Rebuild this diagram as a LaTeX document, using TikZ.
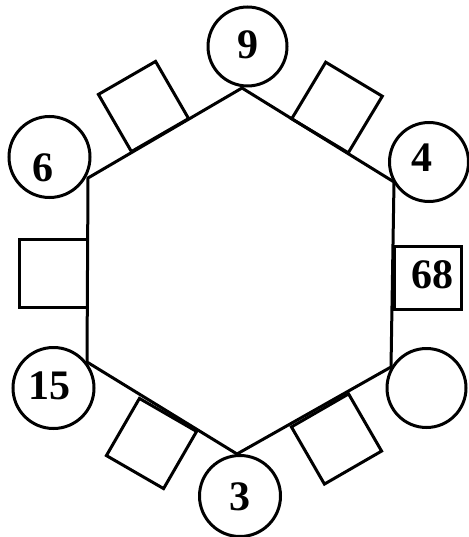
\documentclass[tikz,border=0pt]{standalone}
\usepackage{fontspec}
\setmainfont{Liberation Serif}
\begin{document}
\begin{tikzpicture}[x=1pt,y=-1pt,
  ln/.style={line width=3pt},
  ring/.style={draw,ln,circle,minimum size=79pt,inner sep=0pt},
  box/.style={draw,ln,rectangle,minimum size=66pt,inner sep=0pt},
  num/.style={inner sep=0pt,font=\fontsize{42}{42}\selectfont\bfseries}]
\useasboundingbox (0,0) rectangle (468,537);
% hexagon vertices
\coordinate (A) at (242,88);
\coordinate (B) at (394,182);
\coordinate (C) at (391,367);
\coordinate (D) at (237,454);
\coordinate (E) at (87,362);
\coordinate (F) at (88,178);
\draw[ln,line join=miter] (A) -- (B) -- (C) -- (D) -- (E) -- (F) -- cycle;
% squares on edges
\node[box,rotate=30] (sUL) at (143.5,106.5) {};
\node[box,rotate=-31] (sUR) at (337,107.5) {};
\node[box,rotate=-30] (sLL) at (151.5,443.5) {};
\node[box,rotate=30] (sLR) at (336.5,439) {};
\node[box,minimum width=68pt,minimum height=68pt] (sL) at (53,273) {};
\node[box,minimum width=67pt,minimum height=63pt] (sR) at (427.5,277.5) {};
% circles at vertices
\node[ring] (cT) at (247.5,46.5) {};
\node[ring] (cUR) at (429,162) {};
\node[ring] (cLR) at (426.5,388) {};
\node[ring,minimum size=81pt] (cB) at (240,496) {};
\node[ring,minimum size=81pt] (cLL) at (53.5,388) {};
\node[ring,minimum size=81pt] (cUL) at (49.5,157) {};
% numbers
\node[num] (n9) at (248,45) {9};
\node[num] (n4) at (422,158) {4};
\node[num] (n6) at (43,168) {6};
\node[num] (n15) at (49,386) {15};
\node[num] (n3) at (240,497) {3};
\node[num] (n68) at (432,275) {68};
\end{tikzpicture}
\end{document}
